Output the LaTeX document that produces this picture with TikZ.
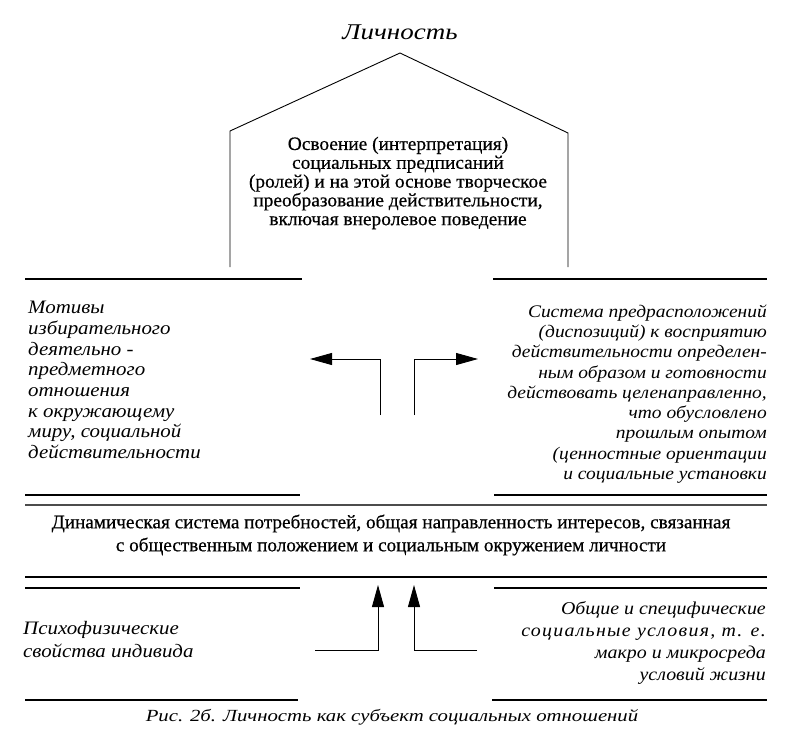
\documentclass[tikz,border=0pt]{standalone}
\usepackage{fontspec}
\setmainfont{Liberation Serif}
\newfontfamily\topserif[FakeStretch=1.02,FakeBold=0.5]{Liberation Serif}
\newfontfamily\midserif[FakeStretch=1.0,FakeBold=0.5]{Liberation Serif}
\newfontfamily\wideit[FakeStretch=1.1]{Liberation Serif}
\newfontfamily\spacedit[FakeStretch=1.1,LetterSpace=7]{Liberation Serif}
\newfontfamily\titleit[FakeStretch=1.2]{Liberation Serif}
\newfontfamily\capit[FakeStretch=1.22]{Liberation Serif}
\usetikzlibrary{arrows.meta}
\begin{document}
\begin{tikzpicture}[x=1pt,y=-1pt,
  bar/.style={line width=2.8pt},
  thinbar/.style={line width=1.4pt, black!70},
  wall/.style={line width=0.9pt},
  link/.style={line width=0.9pt, -{Triangle[length=22pt,width=12pt]}},
  txt/.style={inner sep=0pt, text=black},
  titletxt/.style={txt, font=\titleit\itshape\fontsize{22.5}{26}\selectfont},
  toptxt/.style={txt, align=center, font=\topserif\fontsize{19}{18.8}\selectfont},
  sidetxtL/.style={txt, align=left, anchor=west, font=\wideit\itshape\fontsize{19}{20.7}\selectfont},
  sidetxtR/.style={txt, align=right, anchor=east, font=\wideit\itshape\fontsize{17.7}{20.25}\selectfont},
  midtxt/.style={txt, align=center, font=\midserif\fontsize{19.2}{23}\selectfont},
  lowtxtL/.style={txt, align=left, anchor=west, font=\wideit\itshape\fontsize{19}{23}\selectfont},
  lowtxtR/.style={txt, align=right, anchor=east, font=\wideit\itshape\fontsize{18.1}{22}\selectfont},
  captxt/.style={txt, font=\capit\itshape\fontsize{17}{20}\selectfont}]
\useasboundingbox[fill=white] (0,0) rectangle (789,744);

% title and house
\node[titletxt] (lich) at (400,32) {Личность};
\coordinate (hLb) at (230,267);
\coordinate (hLt) at (230,131);
\coordinate (apex) at (400,53);
\coordinate (hRt) at (568,133);
\coordinate (hRb) at (568,267);
\draw[wall] (hLb) -- (hLt) -- (apex) -- (hRt) -- (hRb);
\node[toptxt] (osv) at (398,183) {Освоение (интерпретация)\\социальных предписаний\\(ролей) и на этой основе творческое\\преобразование действительности,\\включая внеролевое поведение};

% bars
\coordinate (b1a) at (25,279); \coordinate (b1b) at (302,279);
\coordinate (b1c) at (493,279); \coordinate (b1d) at (767,279);
\draw[bar] (b1a) -- (b1b);
\draw[bar] (b1c) -- (b1d);
\coordinate (b2a) at (25,495); \coordinate (b2b) at (300,495);
\coordinate (b2c) at (494,495); \coordinate (b2d) at (767,495);
\draw[bar] (b2a) -- (b2b);
\draw[bar] (b2c) -- (b2d);
\coordinate (t1a) at (25,505); \coordinate (t1b) at (767,505);
\draw[thinbar] (t1a) -- (t1b);
\coordinate (t2a) at (25,577); \coordinate (t2b) at (767,577);
\draw[bar] (t2a) -- (t2b);
\coordinate (b3a) at (25,588); \coordinate (b3b) at (300,588);
\coordinate (b3c) at (494,588); \coordinate (b3d) at (767,588);
\draw[bar] (b3a) -- (b3b);
\draw[bar] (b3c) -- (b3d);
\coordinate (b4a) at (25,700); \coordinate (b4b) at (298,700);
\coordinate (b4c) at (492,700); \coordinate (b4d) at (767,700);
\draw[bar] (b4a) -- (b4b);
\draw[bar] (b4c) -- (b4d);

% side texts
\node[sidetxtL] (mot) at (28,380) {Мотивы\\избирательного\\деятельно -\\предметного\\отношения\\к окружающему\\миру, социальной\\действительности};
\node[sidetxtR] (sys) at (767,394) {Система предрасположений\\(диспозиций) к восприятию\\действительности определен-\\ным образом и готовности\\действовать целенаправленно,\\что обусловлено\\прошлым опытом\\(ценностные ориентации\\и социальные установки};

% middle arrows
\coordinate (la0) at (380,415); \coordinate (la1) at (380,359); \coordinate (la2) at (310,359);
\draw[link] (la0) -- (la1) -- (la2);
\coordinate (ra0) at (414,415); \coordinate (ra1) at (414,359); \coordinate (ra2) at (478,359);
\draw[link] (ra0) -- (ra1) -- (ra2);

% middle text
\node[midtxt] (dyn) at (391,535) {Динамическая система потребностей, общая направленность интересов, связанная\\с общественным положением и социальным окружением личности};

% lower texts
\node[lowtxtL] (psy) at (23,640) {Психофизические\\свойства индивида};
\node[lowtxtR] (soc) at (766,643) {Общие и специфические\\{\spacedit\itshape социальные условия, т. е.}\\макро и микросреда\\условий жизни};

% lower arrows
\coordinate (lu0) at (315,650); \coordinate (lu1) at (378,650); \coordinate (lu2) at (378,585);
\draw[link] (lu0) -- (lu1) -- (lu2);
\coordinate (ru0) at (477,650); \coordinate (ru1) at (414,650); \coordinate (ru2) at (414,585);
\draw[link] (ru0) -- (ru1) -- (ru2);

% caption
\node[captxt] (cap) at (392,717) {Рис. 2б. Личность как субъект социальных отношений};
\end{tikzpicture}
\end{document}
